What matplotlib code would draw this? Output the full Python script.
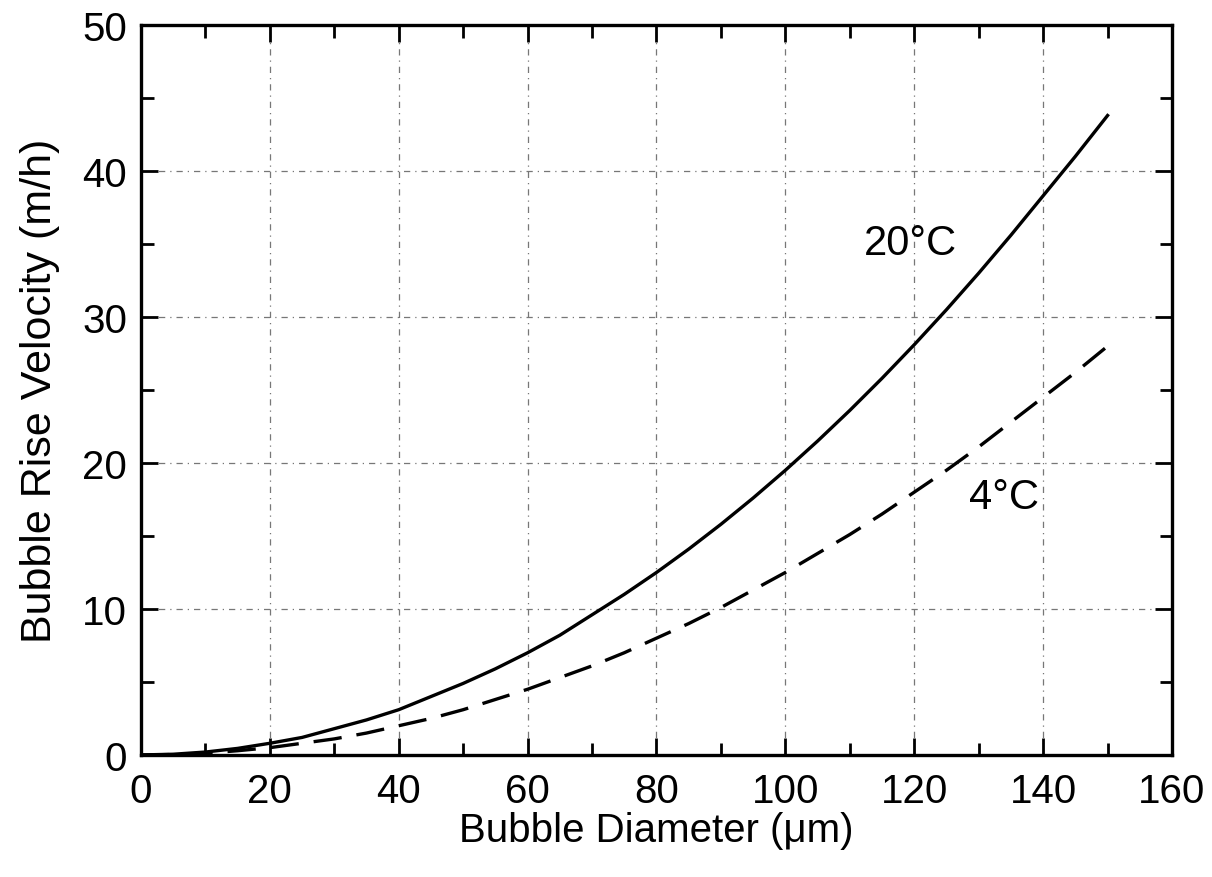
import matplotlib
matplotlib.use("Agg")
import matplotlib.pyplot as plt
from matplotlib.ticker import MultipleLocator

# bubble diameter (um) and rise velocity (m/h)
diameter = [0, 5, 10, 15, 20, 25, 30, 35, 40, 45, 50, 55, 60, 65, 70, 75, 80,
            85, 90, 95, 100, 105, 110, 115, 120, 125, 130, 135, 140, 145, 150]
v_20c = [0, 0.05, 0.2, 0.45, 0.8, 1.2, 1.8, 2.4, 3.1, 4.0, 4.9, 5.9, 7.0, 8.2, 9.6, 11.0, 12.5,
         14.1, 15.8, 17.6, 19.5, 21.5, 23.6, 25.8, 28.1, 30.5, 33.0, 35.6, 38.3, 41.0, 43.8]
v_4c = [0, 0.03, 0.12, 0.29, 0.5, 0.8, 1.1, 1.5, 2.0, 2.5, 3.1, 3.8, 4.5, 5.3, 6.1, 7.0, 8.0,
        9.0, 10.1, 11.3, 12.5, 13.8, 15.1, 16.5, 18.0, 19.5, 21.1, 22.8, 24.5, 26.2, 28.0]

plt.rcParams["font.family"] = ["Liberation Sans", "DejaVu Sans"]

fig = plt.figure(figsize=(12.12, 8.78), dpi=100)
ax = fig.add_axes([0.1163, 0.139, 0.8507, 0.8314])

ax.plot(diameter, v_20c, color="black", lw=2.4)
ax.plot(diameter, v_4c, color="black", lw=2.4, dashes=(8.5, 4.5))

ax.text(119.4, 35.1, "20°C", fontsize=30, ha="center", va="center")
ax.text(134, 17.7, "4°C", fontsize=30, ha="center", va="center")

ax.set_xlim(0, 160)
ax.set_ylim(0, 50)
ax.xaxis.set_major_locator(MultipleLocator(20))
ax.xaxis.set_minor_locator(MultipleLocator(10))
ax.yaxis.set_major_locator(MultipleLocator(10))
ax.yaxis.set_minor_locator(MultipleLocator(5))

ax.grid(True, which="major", color="#777777", lw=0.9, linestyle=(0, (5, 4, 1, 4)))
ax.tick_params(which="both", direction="in", top=True, right=True, width=2, labelsize=29)
ax.tick_params(axis="x", pad=12)
ax.tick_params(axis="y", pad=10)
ax.tick_params(which="major", length=12)
ax.tick_params(which="minor", length=9)
for s in ax.spines.values():
    s.set_linewidth(2.4)

ax.set_xlabel("Bubble Diameter (μm)", fontsize=29, labelpad=1)
ax.set_ylabel("Bubble Rise Velocity (m/h)", fontsize=31, labelpad=16)

fig.savefig("out.png", dpi=100)
